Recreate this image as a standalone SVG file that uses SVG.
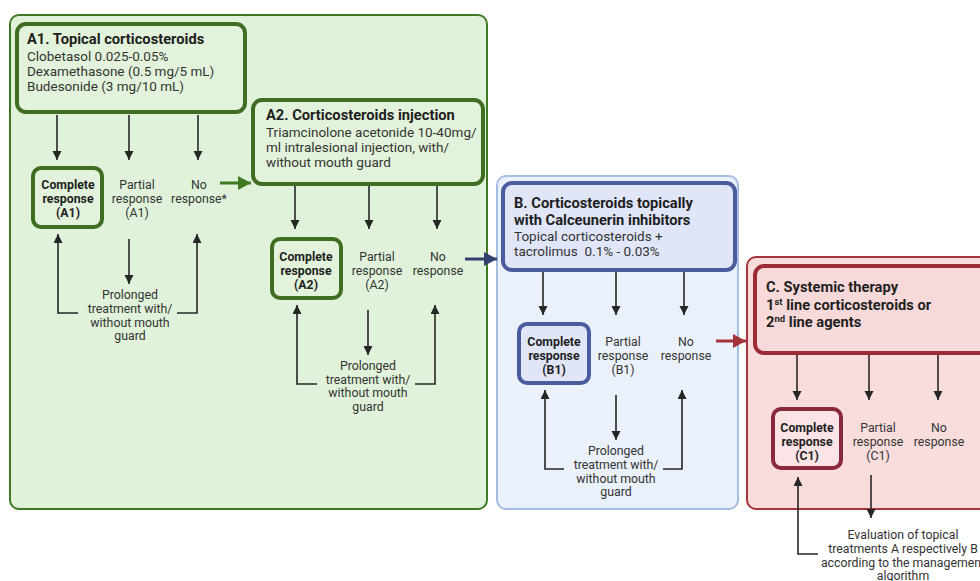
<svg xmlns="http://www.w3.org/2000/svg" width="980" height="581" viewBox="0 0 980 581">
<style>
text{font-family:Roboto,"Liberation Sans",sans-serif;fill:#333}
.t{font-weight:bold;font-size:14.7px;fill:#1e1e1e}
.b{font-size:13.5px}
.s{font-size:12.3px;text-anchor:middle}
.sb{font-size:12.3px;font-weight:bold;text-anchor:middle;fill:#1e1e1e}
.ln{stroke:#262626;stroke-width:1.6;fill:none}
.ar{marker-end:url(#ah)}
</style>
<defs>
<marker id="ah" markerUnits="userSpaceOnUse" markerWidth="10" markerHeight="10" refX="9" refY="4.5" orient="auto"><path d="M0,0 L9,4.5 L0,9 z" fill="#262626"/></marker>
<marker id="ag" markerUnits="userSpaceOnUse" markerWidth="14" markerHeight="14" refX="13" refY="7" orient="auto"><path d="M0,0 L13,7 L0,14 z" fill="#3f7a23"/></marker>
<marker id="abl" markerUnits="userSpaceOnUse" markerWidth="14" markerHeight="14" refX="13" refY="7" orient="auto"><path d="M0,0 L13,7 L0,14 z" fill="#34416e"/></marker>
<marker id="ar" markerUnits="userSpaceOnUse" markerWidth="14" markerHeight="14" refX="13" refY="7" orient="auto"><path d="M0,0 L13,7 L0,14 z" fill="#a3333b"/></marker>
</defs>

<g id="containerA"><rect x="10" y="15" width="477" height="494" rx="9" fill="#e0f2d9" stroke="#3f7a23" stroke-width="2"/></g>
<g id="containerB"><rect x="497" y="176" width="241" height="333" rx="9" fill="#ebf1fb" stroke="#a6bde3" stroke-width="2"/></g>
<g id="containerC"><rect x="747" y="257" width="250" height="252" rx="9" fill="#f9dddd" stroke="#a8343d" stroke-width="2"/></g>

<g id="A1">
<rect x="17" y="24" width="228" height="88" rx="9" fill="#e3f3db" stroke="#3f6e23" stroke-width="4"/>
<text class="t" x="27" y="44">A1. Topical corticosteroids</text>
<text class="b" x="27" y="61">Clobetasol 0.025-0.05%</text>
<text class="b" x="27" y="76">Dexamethasone (0.5 mg/5 mL)</text>
<text class="b" x="27" y="91">Budesonide (3 mg/10 mL)</text>
</g>
<g id="A1-complete">
<rect x="33" y="168" width="69" height="59" rx="8" fill="#e3f3db" stroke="#3f6e23" stroke-width="4"/>
<text class="sb" x="68" y="189">Complete</text>
<text class="sb" x="68" y="203">response</text>
<text class="sb" x="68" y="217">(A1)</text>
</g>
<g id="A1-partial"><text class="s" x="137" y="189">Partial</text><text class="s" x="137" y="203">response</text><text class="s" x="137" y="217">(A1)</text></g>
<g id="A1-none"><text class="s" x="199" y="189">No</text><text class="s" x="199" y="203">response*</text></g>
<g id="A1-prolonged"><text class="s" x="130" y="299">Prolonged</text><text class="s" x="130" y="313">treatment with/</text><text class="s" x="130" y="327">without mouth</text><text class="s" x="130" y="340">guard</text></g>

<g id="A2">
<rect x="253" y="100" width="230" height="84" rx="9" fill="#e3f3db" stroke="#3f6e23" stroke-width="4"/>
<text class="t" x="266" y="120">A2. Corticosteroids injection</text>
<text class="b" x="266" y="137">Triamcinolone acetonide 10-40mg/</text>
<text class="b" x="266" y="152">ml intralesional injection, with/</text>
<text class="b" x="266" y="167">without mouth guard</text>
</g>
<g id="A2-complete">
<rect x="272" y="239" width="69" height="59" rx="8" fill="#e3f3db" stroke="#3f6e23" stroke-width="4"/>
<text class="sb" x="306" y="261">Complete</text>
<text class="sb" x="306" y="275">response</text>
<text class="sb" x="306" y="289">(A2)</text>
</g>
<g id="A2-partial"><text class="s" x="377" y="261">Partial</text><text class="s" x="377" y="275">response</text><text class="s" x="377" y="289">(A2)</text></g>
<g id="A2-none"><text class="s" x="438" y="261">No</text><text class="s" x="438" y="275">response</text></g>
<g id="A2-prolonged"><text class="s" x="368" y="370">Prolonged</text><text class="s" x="368" y="384">treatment with/</text><text class="s" x="368" y="397">without mouth</text><text class="s" x="368" y="411">guard</text></g>

<g id="B">
<rect x="503" y="183" width="232" height="87" rx="9" fill="#e0e6f8" stroke="#4b5c9e" stroke-width="4"/>
<text class="t" x="514" y="208">B. Corticosteroids topically</text>
<text class="t" x="514" y="225">with Calceunerin inhibitors</text>
<text class="b" x="514" y="241">Topical corticosteroids +</text>
<text class="b" x="514" y="256" xml:space="preserve">tacrolimus  0.1% - 0.03%</text>
</g>
<g id="B1-complete">
<rect x="519" y="324" width="70" height="59" rx="8" fill="#e0e6f8" stroke="#4b5c9e" stroke-width="4"/>
<text class="sb" x="554" y="346">Complete</text>
<text class="sb" x="554" y="360">response</text>
<text class="sb" x="554" y="374">(B1)</text>
</g>
<g id="B1-partial"><text class="s" x="623" y="346">Partial</text><text class="s" x="623" y="360">response</text><text class="s" x="623" y="374">(B1)</text></g>
<g id="B1-none"><text class="s" x="686" y="346">No</text><text class="s" x="686" y="360">response</text></g>
<g id="B1-prolonged"><text class="s" x="616" y="455">Prolonged</text><text class="s" x="616" y="469">treatment with/</text><text class="s" x="616" y="483">without mouth</text><text class="s" x="616" y="496">guard</text></g>

<g id="C">
<rect x="755" y="266" width="240" height="87" rx="9" fill="#f8d9da" stroke="#9b2c36" stroke-width="4"/>
<text class="t" x="766" y="292">C. Systemic therapy</text>
<text class="t" x="766" y="310">1<tspan font-size="9.5" dy="-5">st</tspan><tspan dy="5"> line corticosteroids or</tspan></text>
<text class="t" x="766" y="327">2<tspan font-size="9.5" dy="-5">nd</tspan><tspan dy="5"> line agents</tspan></text>
</g>
<g id="C1-complete">
<rect x="773" y="409" width="68" height="59" rx="8" fill="#fbe3e6" stroke="#8a2840" stroke-width="4"/>
<text class="sb" x="807" y="432">Complete</text>
<text class="sb" x="807" y="446">response</text>
<text class="sb" x="807" y="460">(C1)</text>
</g>
<g id="C1-partial"><text class="s" x="878" y="432">Partial</text><text class="s" x="878" y="446">response</text><text class="s" x="878" y="460">(C1)</text></g>
<g id="C1-none"><text class="s" x="939" y="432">No</text><text class="s" x="939" y="446">response</text></g>
<g id="C-evaluation"><text class="s" x="903" y="539">Evaluation of topical</text><text class="s" x="903" y="553">treatments A respectively B</text><text class="s" x="903" y="567">according to the management</text><text class="s" x="903" y="580">algorithm</text></g>

<g id="connectors">
<path class="ln ar" d="M57,115 V160"/>
<path class="ln ar" d="M129,115 V160"/>
<path class="ln ar" d="M198,115 V160"/>
<path class="ln ar" d="M129,239 V284"/>
<path class="ln ar" d="M78,313 H58 V234"/>
<path class="ln ar" d="M177,313 H197 V234"/>
<path d="M220,183 H251" stroke="#3f7a23" stroke-width="3" marker-end="url(#ag)"/>

<path class="ln ar" d="M295,186 V229"/>
<path class="ln ar" d="M369,186 V229"/>
<path class="ln ar" d="M437,186 V229"/>
<path class="ln ar" d="M368,310 V355"/>
<path class="ln ar" d="M317,384 H297 V305"/>
<path class="ln ar" d="M415,384 H435 V305"/>
<path d="M465,259 H497" stroke="#34416e" stroke-width="3" marker-end="url(#abl)"/>

<path class="ln ar" d="M543,272 V315"/>
<path class="ln ar" d="M616,272 V315"/>
<path class="ln ar" d="M684,272 V315"/>
<path class="ln ar" d="M616,395 V440"/>
<path class="ln ar" d="M564,469 H545 V390"/>
<path class="ln ar" d="M663,469 H682 V390"/>
<path d="M716,341 H746" stroke="#a3333b" stroke-width="3" marker-end="url(#ar)"/>

<path class="ln ar" d="M797,355 V400"/>
<path class="ln ar" d="M869,355 V400"/>
<path class="ln ar" d="M938,355 V400"/>
<path class="ln ar" d="M871,475 V518"/>
<path class="ln ar" d="M818,554 H798 V477"/>
</g>
</svg>
